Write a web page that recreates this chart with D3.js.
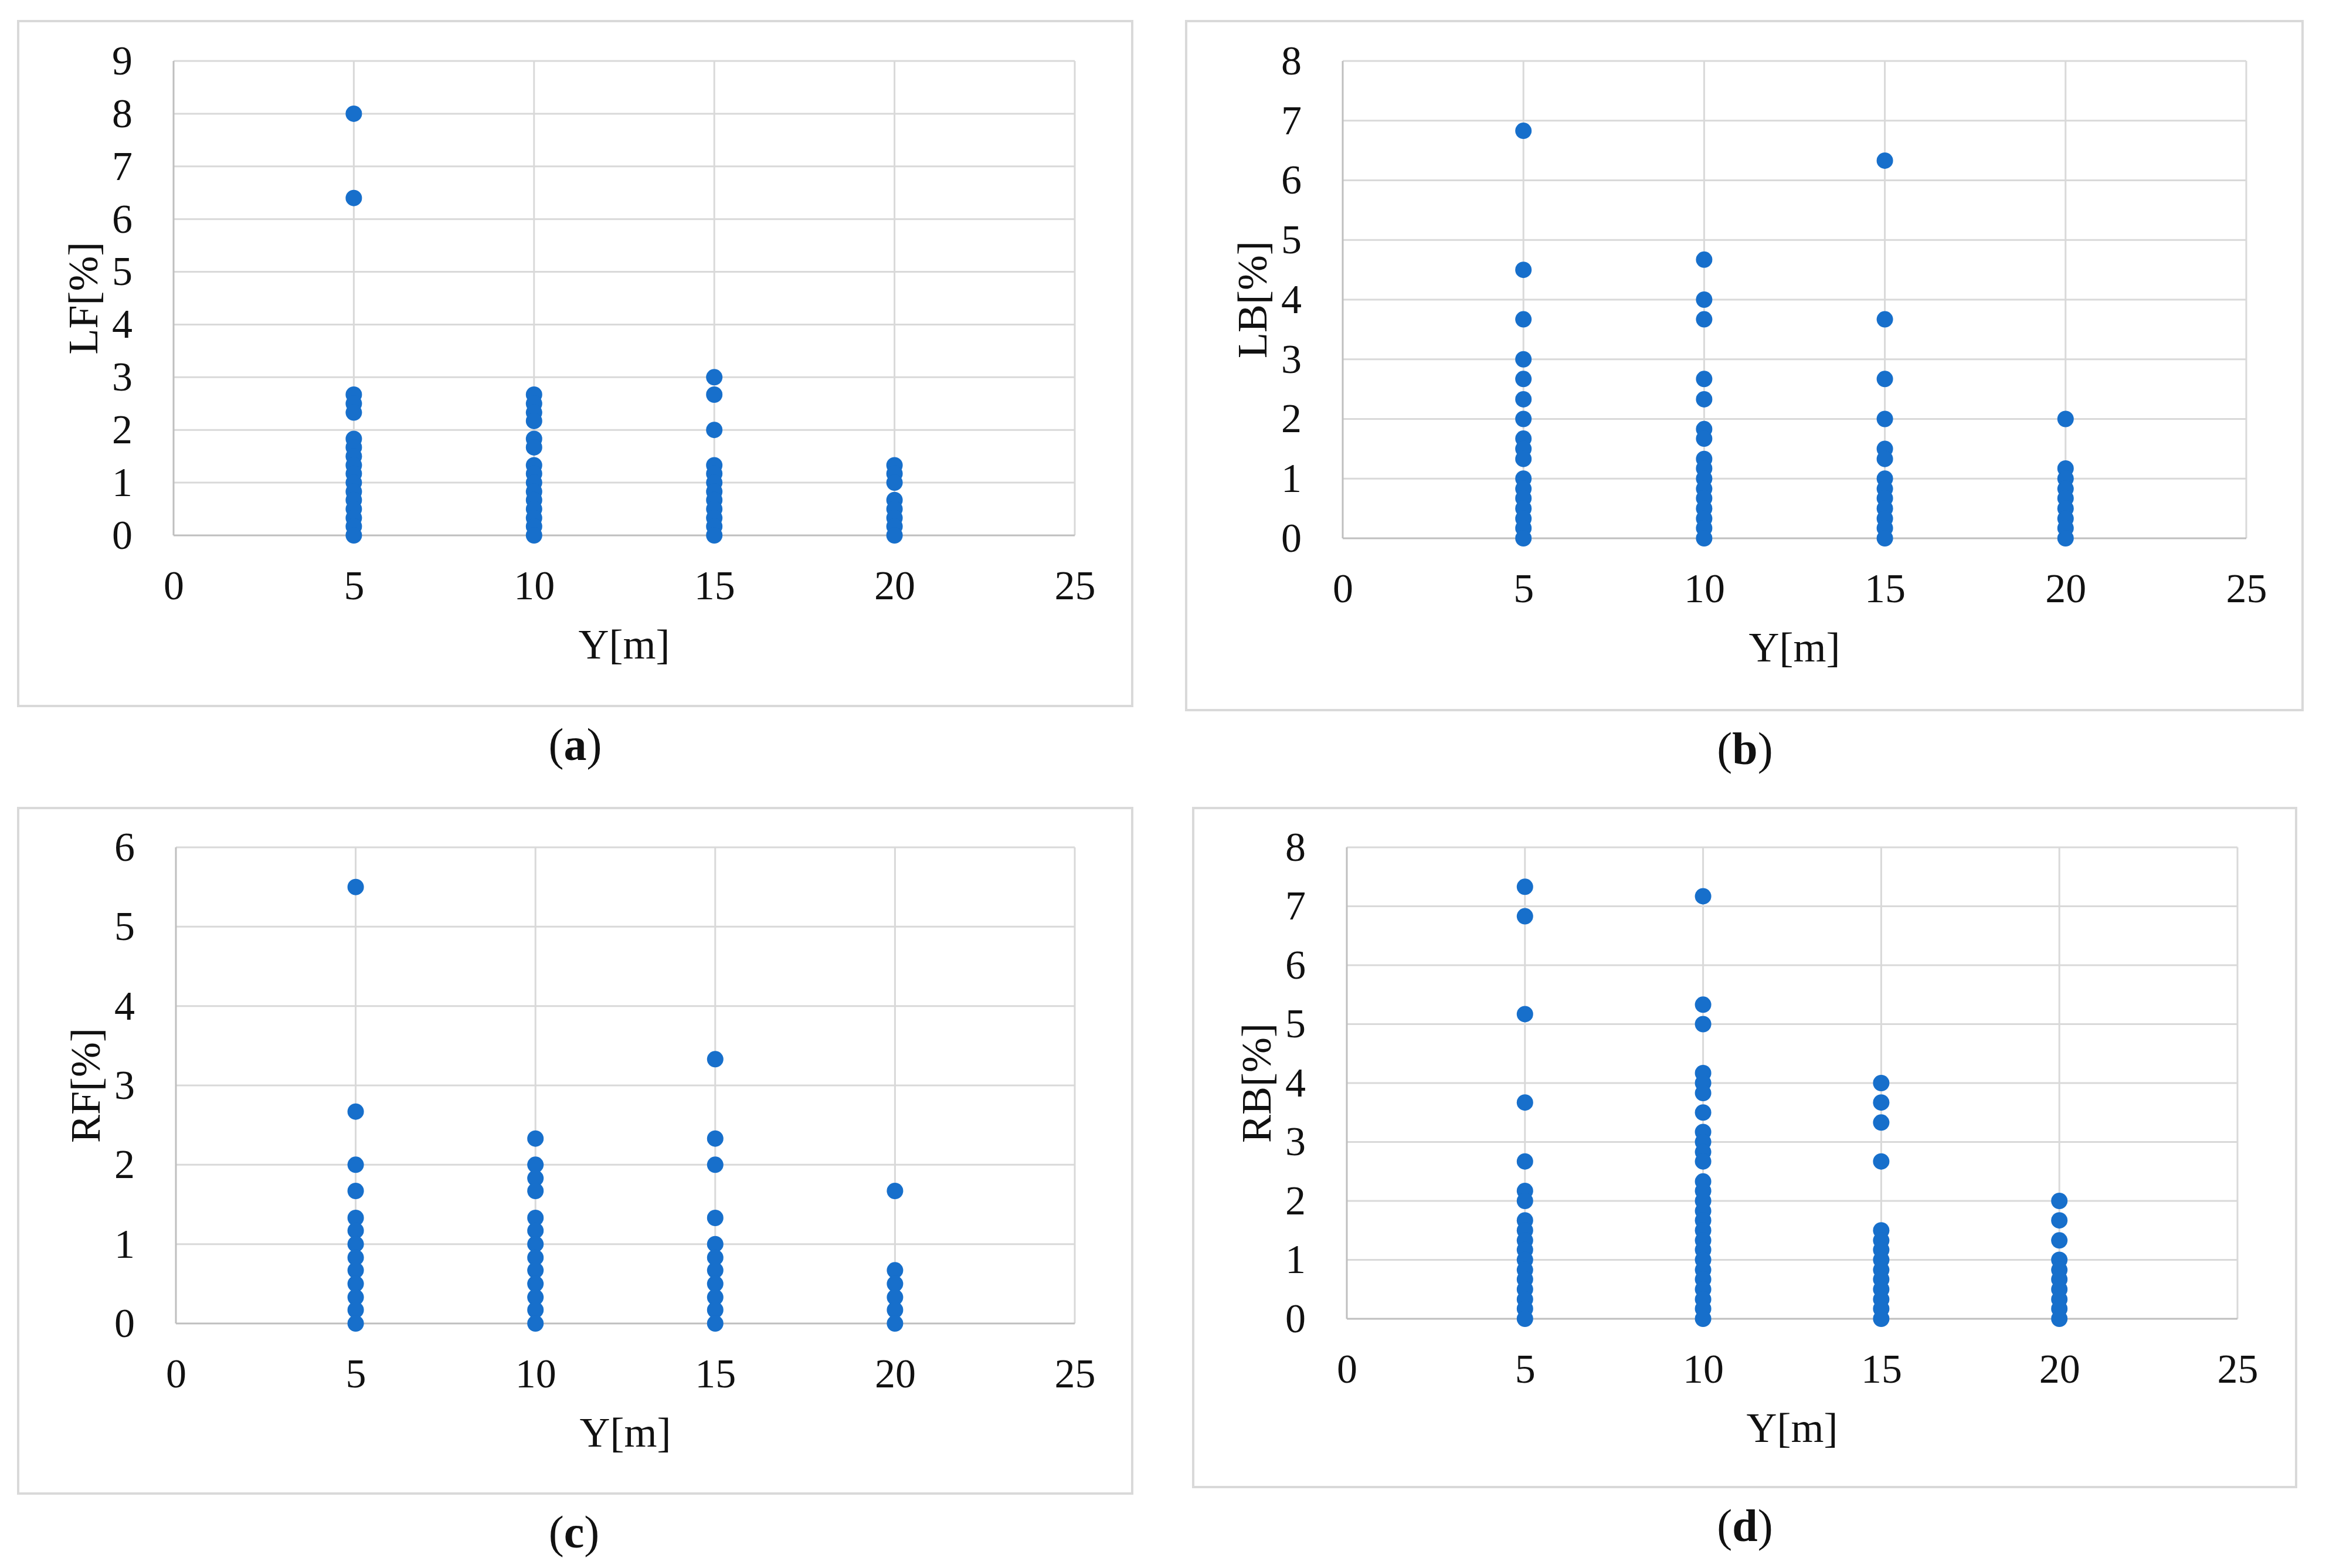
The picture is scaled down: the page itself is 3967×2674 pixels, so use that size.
<!DOCTYPE html>
<html>
<head>
	<meta http-equiv="Content-Type" content="text/html; charset=utf-8"/>
	<title>LF LB RF RB vs Y</title>
	<style>
		body { margin: 0; background: #fff; }
		svg text { font-family: "Liberation Serif", "Times New Roman", serif; fill: #111; }
	</style>
</head>
<body>
	<svg id="viz" width="3967" height="2674"></svg>

	<script src="https://d3js.org/d3.v7.min.js"></script>
	<script>

		// Datos: posiciones Y[m] y valores de cada columna
		var posiciones = [5, 10, 15, 20];
		var xTicks = [0, 5, 10, 15, 20, 25];

		var lfTicks = [0, 1, 2, 3, 4, 5, 6, 7, 8, 9];
		var lfValores = [
			[8.0, 6.4, 2.67, 2.5, 2.33, 1.83, 1.67, 1.5, 1.33, 1.17, 1.0, 0.83, 0.67, 0.5, 0.33, 0.17, 0],
			[2.67, 2.5, 2.33, 2.17, 1.83, 1.67, 1.33, 1.17, 1.0, 0.83, 0.67, 0.5, 0.33, 0.17, 0],
			[3.0, 2.67, 2.0, 1.33, 1.17, 1.0, 0.83, 0.67, 0.5, 0.33, 0.17, 0],
			[1.33, 1.17, 1.0, 0.67, 0.5, 0.33, 0.17, 0]
		];

		var lbTicks = [0, 1, 2, 3, 4, 5, 6, 7, 8];
		var lbValores = [
			[6.83, 4.5, 3.67, 3.0, 2.67, 2.33, 2.0, 1.67, 1.5, 1.33, 1.0, 0.83, 0.67, 0.5, 0.33, 0.17, 0],
			[4.67, 4.0, 3.67, 2.67, 2.33, 1.83, 1.67, 1.33, 1.17, 1.0, 0.83, 0.67, 0.5, 0.33, 0.17, 0],
			[6.33, 3.67, 2.67, 2.0, 1.5, 1.33, 1.0, 0.83, 0.67, 0.5, 0.33, 0.17, 0],
			[2.0, 1.17, 1.0, 0.83, 0.67, 0.5, 0.33, 0.17, 0]
		];

		var rfTicks = [0, 1, 2, 3, 4, 5, 6];
		var rfValores = [
			[5.5, 2.67, 2.0, 1.67, 1.33, 1.17, 1.0, 0.83, 0.67, 0.5, 0.33, 0.17, 0],
			[2.33, 2.0, 1.83, 1.67, 1.33, 1.17, 1.0, 0.83, 0.67, 0.5, 0.33, 0.17, 0],
			[3.33, 2.33, 2.0, 1.33, 1.0, 0.83, 0.67, 0.5, 0.33, 0.17, 0],
			[1.67, 0.67, 0.5, 0.33, 0.17, 0]
		];

		var rbTicks = [0, 1, 2, 3, 4, 5, 6, 7, 8];
		var rbValores = [
			[7.33, 6.83, 5.17, 3.67, 2.67, 2.17, 2.0, 1.67, 1.5, 1.33, 1.17, 1.0, 0.83, 0.67, 0.5, 0.33, 0.17, 0],
			[7.17, 5.33, 5.0, 4.17, 4.0, 3.83, 3.5, 3.17, 3.0, 2.83, 2.67, 2.33, 2.17, 2.0, 1.83, 1.67, 1.5, 1.33, 1.17, 1.0, 0.83, 0.67, 0.5, 0.33, 0.17, 0],
			[4.0, 3.67, 3.33, 2.67, 1.5, 1.33, 1.17, 1.0, 0.83, 0.67, 0.5, 0.33, 0.17, 0],
			[2.0, 1.67, 1.33, 1.0, 0.83, 0.67, 0.5, 0.33, 0.17, 0]
		];

		// Paneles: caja exterior y área del gráfico (px)
		var paneles = [
			{letra: "a", titulo: "LF[%]", valores: lfValores, ticks: lfTicks,
			 caja: [31, 36, 1931, 1204], area: [296, 104, 1833, 913], cx: 981},
			{letra: "b", titulo: "LB[%]", valores: lbValores, ticks: lbTicks,
			 caja: [2023, 36, 3927, 1211], area: [2290, 104, 3831, 918], cx: 2976},
			{letra: "c", titulo: "RF[%]", valores: rfValores, ticks: rfTicks,
			 caja: [31, 1378, 1931, 2547], area: [300, 1445, 1833, 2257], cx: 979},
			{letra: "d", titulo: "RB[%]", valores: rbValores, ticks: rbTicks,
			 caja: [2035, 1378, 3916, 2536], area: [2297, 1445, 3816, 2249], cx: 2976}
		];

		var azul = "#176fcb", gris = "#d9d9d9", grisEje = "#bfbfbf";
		var fuente = 70;
		var formato = d3.format("d");

		var svg = d3.select("#viz");
		svg.append("rect").attr("width", 3967).attr("height", 2674).attr("fill", "#fff");

		paneles.forEach(function(p) {
			var g = svg.append("g");

			//Caja
			g.append("rect")
				.attr("x", p.caja[0]).attr("y", p.caja[1])
				.attr("width", p.caja[2] - p.caja[0]).attr("height", p.caja[3] - p.caja[1])
				.attr("fill", "none").attr("stroke", gris).attr("stroke-width", 4);

			var x = d3.scaleLinear().domain([0, 25]).range([p.area[0], p.area[2]]);
			var y = d3.scaleLinear().domain([0, d3.max(p.ticks)]).range([p.area[3], p.area[1]]);

			//Grilla
			g.append("g").selectAll("line").data(p.ticks.filter(d => d > 0)).join("line")
				.attr("x1", p.area[0]).attr("x2", p.area[2])
				.attr("y1", d => y(d)).attr("y2", d => y(d))
				.attr("stroke", gris).attr("stroke-width", 3);
			g.append("g").selectAll("line").data(xTicks.filter(d => d > 0)).join("line")
				.attr("x1", d => x(d)).attr("x2", d => x(d))
				.attr("y1", p.area[1]).attr("y2", p.area[3])
				.attr("stroke", gris).attr("stroke-width", 3);

			//Ejes
			g.append("line")
				.attr("x1", x(0)).attr("x2", x(0)).attr("y1", p.area[1]).attr("y2", y(0))
				.attr("stroke", grisEje).attr("stroke-width", 3);
			g.append("line")
				.attr("x1", x(0)).attr("x2", x(25)).attr("y1", y(0)).attr("y2", y(0))
				.attr("stroke", grisEje).attr("stroke-width", 3);

			g.append("g")
				.attr("transform", `translate(0,${y(0)})`)
				.call(d3.axisBottom(x).tickValues(xTicks).tickFormat(formato).tickSize(0).tickPadding(59))
				.call(a => a.select(".domain").remove())
				.call(a => a.selectAll("text").style("font-size", fuente + "px")
					.style("font-family", "'Liberation Serif', 'Times New Roman', serif").attr("fill", "#111"));

			g.append("g")
				.attr("transform", `translate(${x(0)},0)`)
				.call(d3.axisLeft(y).tickValues(p.ticks).tickFormat(formato).tickSize(0).tickPadding(70))
				.call(a => a.select(".domain").remove())
				.call(a => a.selectAll("text").style("font-size", fuente + "px")
					.style("font-family", "'Liberation Serif', 'Times New Roman', serif").attr("fill", "#111"));

			//Títulos
			g.append("text")
				.attr("x", (p.area[0] + p.area[2]) / 2)
				.attr("y", y(0) + 210)
				.attr("text-anchor", "middle")
				.style("font-size", "72px")
				.text("Y[m]");

			g.append("text")
				.attr("transform", `translate(${p.area[0] - 130},${(p.area[1] + p.area[3]) / 2}) rotate(-90)`)
				.attr("text-anchor", "middle")
				.style("font-size", "72px")
				.text(p.titulo);

			//Puntos
			var puntos = [];
			p.valores.forEach(function(col, i) {
				col.forEach(function(v) { puntos.push({x: posiciones[i], v: v}); });
			});
			g.append("g").selectAll("circle").data(puntos).join("circle")
				.attr("cx", d => x(d.x))
				.attr("cy", d => y(d.v))
				.attr("r", 14)
				.attr("fill", azul);

			//Leyenda (a), (b)...
			var cap = g.append("text")
				.attr("x", p.cx)
				.attr("y", p.caja[3] + 92)
				.attr("text-anchor", "middle")
				.style("font-size", "78px");
			cap.append("tspan").text("(");
			cap.append("tspan").style("font-weight", "bold").text(p.letra);
			cap.append("tspan").text(")");
		});
	</script>
</body>
</html>
